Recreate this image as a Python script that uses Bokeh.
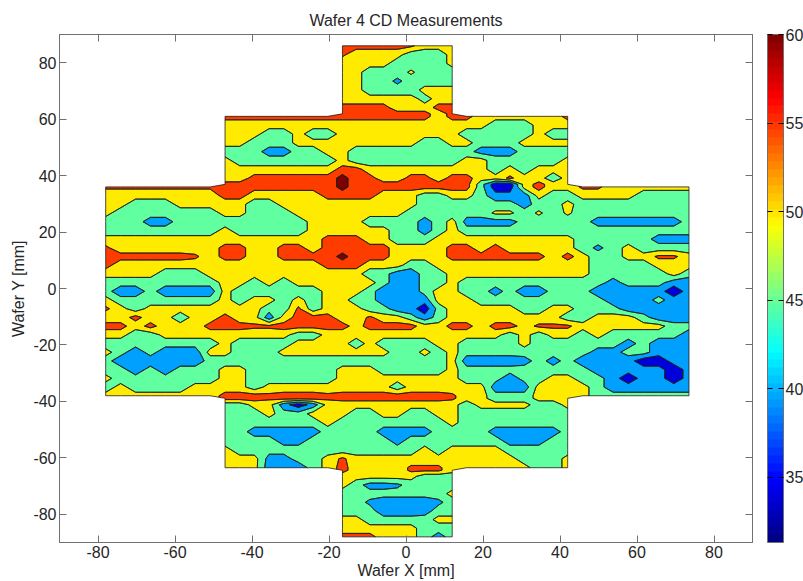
import numpy as np
from bokeh.plotting import figure
from bokeh.embed import file_html
from bokeh.resources import INLINE
from bokeh.models import LinearAxis, FixedTicker, ColorBar, LinearColorMapper

title_text = "Wafer 4 CD Measurements"
x_label = "Wafer X [mm]"
y_label = "Wafer Y [mm]"
tick_values = [-80, -60, -40, -20, 0, 20, 40, 60, 80]
tick_labels = ["-80", "-60", "-40", "-20", "0", "20", "40", "60", "80"]
cbar_ticks = [35, 40, 45, 50, 55, 60]
cbar_low, cbar_high = 31.3, 60
levels = [30, 35, 40, 45, 50, 55, 60, 70]
band_colors = ["#000090", "#0000DC", "#00A0FF", "#60FFA0", "#FFEB00", "#FF3C00", "#7F0000"]

x_edges = [-78, -47, -16.5, 12, 42, 73.5]
y_edges = [86, 61, 36, -38, -63.5, -88]

# CD values on the measurement grid, top row first
top_narrow = [
 [57,57,57,57,57,56,52,52,52],
 [56,52,52,52,52,47,47,47,52],
 [52,52,52,52,47,47,47,47,52],
 [52,52,47,47,47,51,47,47,47],
 [52,52,47,47,44,47,47,47,47],
 [52,52,47,47,47,47,52,52,52],
 [52,52,52,52,52,52,48,52,52],
 [57,57,57,57,52,52,52,57,57],
]
upper_wide = [
 [57,57,57,57,57,57,57,57, 57,57,57,57,57,57,57,52,57, 57,52,52,52,52,52,52,57],
 [52,52,52,52,52,52,52,52, 52,52,52,52,52,52,52,52,52, 52,52,47,47,47,52,52,52],
 [52,52,52,47,47,52,47,47, 52,52,52,52,52,52,52,52,52, 47,47,47,47,47,52,47,47],
 [52,52,47,47,47,52,52,52, 52,52,52,52,52,52,47,47,52, 52,47,47,47,52,52,52,52],
 [47,47,47,43,43,47,47,52, 52,47,47,47,47,47,47,47,47, 47,43,43,43,47,47,47,47],
 [52,47,47,47,47,47,47,47, 52,47,47,47,47,47,47,47,47, 52,52,47,47,47,47,47,52],
 [52,52,52,52,52,52,52,52, 57,57,52,52,52,52,52,52,52, 52,52,47,52,47,52,52,52],
 [52,52,57,57,57,57,57,57, 62,57,57,52,52,57,57,52,57, 57,52,52,56,52,52,47,52],
]
center = [
 [56,56,56,56,56,56,56,56, 57,57,57,57,57,57,57,57, 62,57,57,57,57,57,57,57,57, 57,47,37,37,52,57,52,52, 56,56,52,52,52,52,52,52],
 [52,52,52,52,52,52,52,52, 57,57,52,52,52,52,52,57, 57,57,57,52,52,52,47,47,52, 52,47,42,42,42,52,47,47, 52,52,52,52,47,47,47,47],
 [52,52,47,47,47,52,52,52, 52,52,47,47,52,52,52,52, 52,52,52,52,52,52,47,47,47, 47,47,47,47,43,47,47,52, 47,47,47,47,47,47,47,47],
 [52,47,47,47,47,47,47,47, 52,52,47,47,47,52,52,52, 52,52,52,52,52,47,47,47,47, 47,47,51,51,47,51,47,51, 47,47,47,47,47,47,47,47],
 [47,47,47,43,43,47,47,47, 47,47,47,47,47,47,52,52, 52,52,47,47,47,47,43,47,52, 43,43,43,43,47,47,47,47, 47,43,43,43,43,43,43,47],
 [47,47,47,47,47,47,47,47, 52,47,47,47,47,47,52,52, 52,52,52,52,47,47,43,47,52, 47,47,47,47,47,47,47,47, 47,47,47,47,47,47,47,47],
 [52,52,52,52,52,52,52,52, 52,52,52,52,52,52,52,57, 57,57,52,52,47,47,47,52,52, 52,52,52,52,52,52,52,52, 47,47,47,47,47,43,43,43],
 [56,52,52,52,52,52,52,52, 57,57,52,52,57,57,52,57, 57,57,57,57,52,52,52,52,57, 57,52,57,52,52,52,52,52, 47,44,47,52,47,47,47,47],
 [57,57,57,57,57,57,56,52, 57,57,52,52,57,57,57,57, 62,57,57,57,52,52,52,52,57, 57,57,57,57,57,57,52,57, 52,47,47,52,52,56,56,52],
 [57,52,52,52,52,52,52,52, 52,52,52,52,52,52,52,57, 57,57,52,52,52,47,47,52,52, 52,52,52,52,52,52,52,52, 52,47,47,47,47,52,52,52],
 [52,52,52,52,47,47,47,52, 52,52,52,52,52,52,52,52, 52,52,47,47,42,42,47,47,52, 52,52,52,52,52,52,52,52, 52,47,47,47,47,47,52,47],
 [47,47,47,47,47,47,47,47, 52,52,47,52,47,52,52,52, 52,52,52,47,42,42,47,47,52, 47,47,47,47,47,47,47,47, 47,47,43,47,47,47,42,42],
 [47,42,42,47,42,42,42,42, 52,47,47,47,47,47,47,52, 52,52,47,42,42,42,47,52,52, 47,47,43,47,42,42,47,47, 47,42,42,42,42,42,37,42],
 [52,47,47,47,47,47,47,47, 52,47,52,52,47,52,47,52, 52,47,47,42,42,42,42,52,52, 52,47,47,47,47,47,47,47, 47,47,42,42,42,47,42,42],
 [56,52,47,52,52,52,52,52, 52,52,52,47,47,56,47,52, 52,52,47,47,42,42,37,47,52, 52,52,52,52,47,47,52,52, 47,47,47,42,42,42,42,42],
 [52,52,57,52,52,47,52,52, 57,52,52,42,52,57,57,57, 52,52,56,52,52,47,42,47,52, 52,52,52,52,52,52,52,47, 47,52,52,52,47,42,42,42],
 [57,57,52,57,52,52,52,57, 57,57,56,56,57,57,57,57, 57,53,57,57,57,57,52,52,57, 57,52,57,57,53,56,56,56, 52,52,52,52,52,52,47,47],
 [52,52,47,47,52,52,52,52, 52,52,52,52,52,47,47,52, 52,52,52,52,52,52,52,52,52, 52,52,52,47,52,47,52,52, 47,52,47,47,47,47,47,42],
 [47,47,47,47,47,47,47,47, 52,47,47,47,47,52,52,52, 52,47,52,47,47,47,47,52,52, 47,47,47,47,52,47,47,47, 47,47,47,43,47,42,42,42],
 [52,47,42,47,42,42,42,52, 52,47,47,47,52,52,52,52, 52,52,52,52,47,47,52,47,52, 47,47,47,47,47,47,47,47, 47,43,43,47,47,42,42,42],
 [47,42,42,42,42,42,42,47, 47,47,47,47,47,47,47,47, 47,47,47,47,47,47,47,47,52, 42,42,42,42,43,47,43,47, 42,42,42,42,37,37,42,42],
 [47,47,42,47,42,47,47,47, 52,52,47,47,47,47,47,47, 52,52,52,47,47,47,47,47,52, 47,47,47,47,47,47,47,47, 47,42,42,42,42,42,37,42],
 [52,47,47,47,47,47,47,47, 52,52,47,47,47,47,47,47, 52,52,52,52,52,52,52,52,52, 47,47,47,42,47,47,52,52, 47,47,42,37,42,42,37,42],
 [47,52,47,47,47,47,52,52, 52,52,47,52,52,52,52,52, 52,52,52,52,47,52,52,52,52, 52,52,42,42,42,52,52,52, 52,47,42,42,42,42,42,42],
 [52,52,52,52,52,52,52,52, 57,57,57,56,57,57,57,56, 57,57,57,57,57,57,57,57,56, 52,52,47,47,47,52,52,52, 52,47,47,47,47,47,47,47],
]
lower_wide = [
 [47,47,52,52,42,37,42,52, 52,52,52,52,52,52,52,52,52, 47,52,52,52,52,47,47,52],
 [47,47,47,52,47,47,52,52, 52,47,47,52,52,47,47,52,52, 47,47,47,47,47,47,47,47],
 [47,47,47,47,47,47,47,52, 47,47,47,47,47,47,47,47,52, 47,47,47,47,47,47,47,47],
 [47,47,43,43,43,43,43,47, 47,47,47,43,43,43,43,47,47, 47,47,43,43,43,43,43,47],
 [47,47,47,47,43,43,47,47, 47,47,47,47,43,47,47,47,47, 47,47,47,43,43,43,47,47],
 [52,47,47,47,47,47,47,47, 47,47,47,47,47,47,52,47,52, 52,52,52,47,47,47,47,47],
 [52,52,52,43,43,47,47,52, 56,52,52,52,52,52,52,52,52, 52,52,52,52,47,47,47,52],
 [52,52,52,42,42,42,47,52, 57,52,52,52,52,56,56,56,52, 52,52,52,52,52,47,47,52],
]
bottom_narrow = [
 [52,52,52,52,52,52,47,47,47],
 [52,47,43,43,44,47,47,47,47],
 [47,47,47,47,47,47,47,47,52],
 [47,47,44,42,42,42,42,44,47],
 [47,47,47,42,42,42,43,47,47],
 [52,52,47,47,47,47,47,52,52],
 [52,52,52,52,52,52,47,47,47],
 [57,57,57,52,52,52,47,43,47],
]

x = np.concatenate([np.linspace(x_edges[i], x_edges[i + 1], 9)[:-1 if i < 4 else None] for i in range(5)])
y = np.concatenate([np.linspace(y_edges[0], y_edges[1], 9)[:-1],
                    np.linspace(y_edges[1], y_edges[2], 9)[:-1],
                    np.linspace(y_edges[2], y_edges[3], 25)[:-1],
                    np.linspace(y_edges[3], y_edges[4], 9)[:-1],
                    np.linspace(y_edges[4], y_edges[5], 9)])

def pad(row):
    off = (41 - len(row)) // 2
    return [np.nan] * off + list(row) + [np.nan] * off

z = np.array([pad(r) for r in top_narrow + upper_wide + center + lower_wide + bottom_narrow], dtype=float)

# keep the notches at the inner corners of the stepped outline small
for yy, step, nb in [(61, 0.9, -1), (36, 0.9, -1), (-38, -0.9, 1), (-63.5, -0.9, 1)]:
    i = int(np.argmin(abs(y - yy)))
    extra = np.where(np.isnan(z[i + nb]), np.nan, z[i])
    j = i if nb < 0 else i + 1
    z = np.insert(z, j, extra, axis=0)
    y = np.insert(y, j, yy + step)

order = np.argsort(y)
Z = np.ma.masked_invalid(z[order])

def jet(f):
    r = np.clip(1.5 - abs(4 * f - 3), 0, 1)
    g = np.clip(1.5 - abs(4 * f - 2), 0, 1)
    b = np.clip(1.5 - abs(4 * f - 1), 0, 1)
    return "#%02x%02x%02x" % (int(r * 255), int(g * 255), int(b * 255))
palette = [jet((i + 0.5) / 64) for i in range(64)]

FONT = "Liberation Sans"
AX = "#707070"
TXT = "#262626"
p = figure(frame_width=693, frame_height=508, x_range=(-90, 90), y_range=(-90, 90),
           min_border_left=59, min_border_top=34, min_border_right=51, min_border_bottom=39,
           output_backend="svg", toolbar_location=None, background_fill_color="white",
           x_axis_label=x_label, y_axis_label=y_label)
p.grid.visible = False
p.outline_line_color = AX
p.title.text = title_text
p.title.align = "center"
p.title.text_font = FONT
p.title.text_font_size = "16px"
p.title.text_font_style = "normal"
p.title.text_color = TXT
p.title.offset = 0
p.title.standoff = 12

c = p.contour(x, y[order], Z, levels, fill_color=band_colors)
bands = c.fill_renderer.data_source.data
p.multi_polygons(xs=bands["xs"], ys=bands["ys"], fill_color=None, line_color="#1a1a1a", line_width=0.8)

def style(ax, labels=True):
    ax.ticker = FixedTicker(ticks=tick_values)
    ax.major_tick_in = 7
    ax.major_tick_out = 0
    ax.minor_tick_line_color = None
    ax.axis_line_color = AX
    ax.major_tick_line_color = AX
    if labels:
        ax.major_label_overrides = dict(zip(tick_values, tick_labels))
        ax.major_label_text_font = FONT
        ax.major_label_text_font_size = "16px"
        ax.major_label_text_color = TXT
        ax.axis_label_text_font = FONT
        ax.axis_label_text_font_size = "16px"
        ax.axis_label_text_font_style = "normal"
        ax.axis_label_text_color = TXT
        ax.axis_label_standoff = 1
        ax.major_label_standoff = 3
    else:
        ax.major_label_overrides = {t: "" for t in tick_values}
        ax.major_label_standoff = 0

style(p.xaxis[0]); style(p.yaxis[0])
p.yaxis[0].axis_label_standoff = 3
top = LinearAxis(); style(top, False)
right = LinearAxis(); style(right, False)
p.add_layout(top, "above")
p.add_layout(right, "right")

mapper = LinearColorMapper(palette=palette, low=cbar_low, high=cbar_high)
cb = ColorBar(color_mapper=mapper, ticker=FixedTicker(ticks=cbar_ticks), width=16, height=508,
              margin=0, padding=0, location=(708, 0),
              major_label_text_font=FONT, major_label_text_font_size="16px", major_label_text_color=TXT,
              major_tick_in=16, major_tick_line_color="#000000", major_tick_line_dash="5 6",
              minor_tick_line_color=None, bar_line_color=AX, border_line_color=None,
              background_fill_color=None, label_standoff=2)
p.add_layout(cb, "center")

open("out.html", "w").write(file_html(p, INLINE))
